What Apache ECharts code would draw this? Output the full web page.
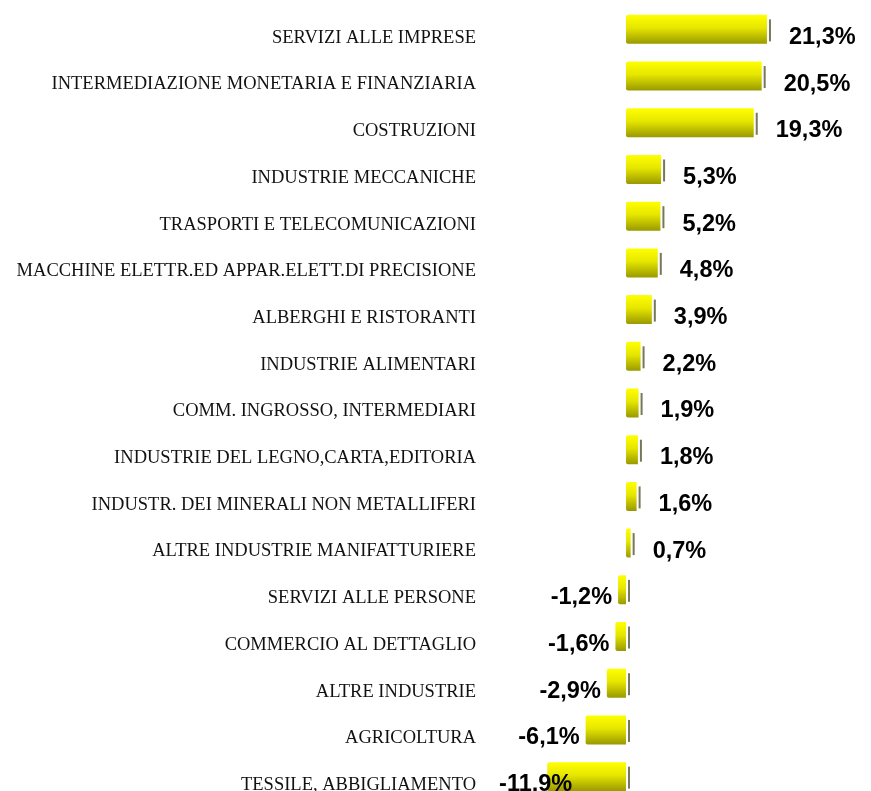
<!DOCTYPE html>
<html>
<head>
<meta charset="utf-8">
<script src="https://cdn.jsdelivr.net/npm/echarts@6/dist/echarts.min.js"></script>
<style>
  html, body { margin: 0; padding: 0; background: #fff; overflow: hidden; }
  #chart { width: 871px; height: 800px; }
</style>
</head>
<body>
<div id="chart"></div>
<script>
// settori e variazioni percentuali
const categories = [
  'SERVIZI ALLE IMPRESE',
  'INTERMEDIAZIONE MONETARIA E FINANZIARIA',
  'COSTRUZIONI',
  'INDUSTRIE MECCANICHE',
  'TRASPORTI E TELECOMUNICAZIONI',
  'MACCHINE ELETTR.ED APPAR.ELETT.DI PRECISIONE',
  'ALBERGHI E RISTORANTI',
  'INDUSTRIE ALIMENTARI',
  'COMM. INGROSSO, INTERMEDIARI',
  'INDUSTRIE DEL LEGNO,CARTA,EDITORIA',
  'INDUSTR. DEI MINERALI NON METALLIFERI',
  'ALTRE INDUSTRIE MANIFATTURIERE',
  'SERVIZI ALLE PERSONE',
  'COMMERCIO AL DETTAGLIO',
  'ALTRE INDUSTRIE',
  'AGRICOLTURA',
  'TESSILE, ABBIGLIAMENTO'
]
const values = [21.3, 20.5, 19.3, 5.3, 5.2, 4.8, 3.9, 2.2, 1.9, 1.8, 1.6, 0.7, -1.2, -1.6, -2.9, -6.1, -11.9]

const chart = echarts.init(document.getElementById('chart'))

const yellow = new echarts.graphic.LinearGradient(0, 0, 0, 1, [
  { offset: 0, color: '#ffff00' },
  { offset: 0.45, color: '#e6e600' },
  { offset: 1, color: '#999900' }
])

// distanza etichetta: le negative a sinistra, la più lunga sovrapposta alla barra
function labelDistance(v) {
  if (v >= 0) return 22
  if (v < -10) return -25
  return 6
}

chart.setOption({
  animation: false,
  grid: { left: 546.6, right: 99.4, top: 6, bottom: 0 },
  xAxis: {
    type: 'value',
    min: -12,
    max: 22,
    show: false
  },
  yAxis: {
    type: 'category',
    inverse: true,
    data: categories,
    axisLine: { show: false, onZero: false },
    axisTick: { show: false },
    axisLabel: {
      margin: 70.6,
      color: '#111',
      fontFamily: '"Liberation Serif", "Times New Roman", serif',
      fontSize: 18.5,
      verticalAlign: 'top',
      lineHeight: 17
    }
  },
  series: [{
    type: 'bar',
    data: values.map(v => ({
      value: v,
      label: {
        position: v >= 0 ? 'right' : 'left',
        distance: labelDistance(v)
      }
    })),
    barWidth: 29,
    itemStyle: { color: yellow, borderRadius: [2, 0, 0, 2] },
    label: {
      show: true,
      offset: [0, 8],
      color: '#000',
      fontFamily: '"Liberation Sans", Arial, sans-serif',
      fontWeight: 'bold',
      fontSize: 23.5,
      formatter: p => p.value.toFixed(1).replace('.', ',') + '%'
    }
  }, {
    // tappo del cilindro sul lato destro della barra
    type: 'scatter',
    data: values.map((v, i) => [Math.max(v, 0), i]),
    symbol: 'rect',
    symbolSize: [2, 22],
    symbolOffset: [3, 1],
    itemStyle: { color: '#555530' },
    silent: true,
    z: 3
  }]
})
</script>
</body>
</html>
